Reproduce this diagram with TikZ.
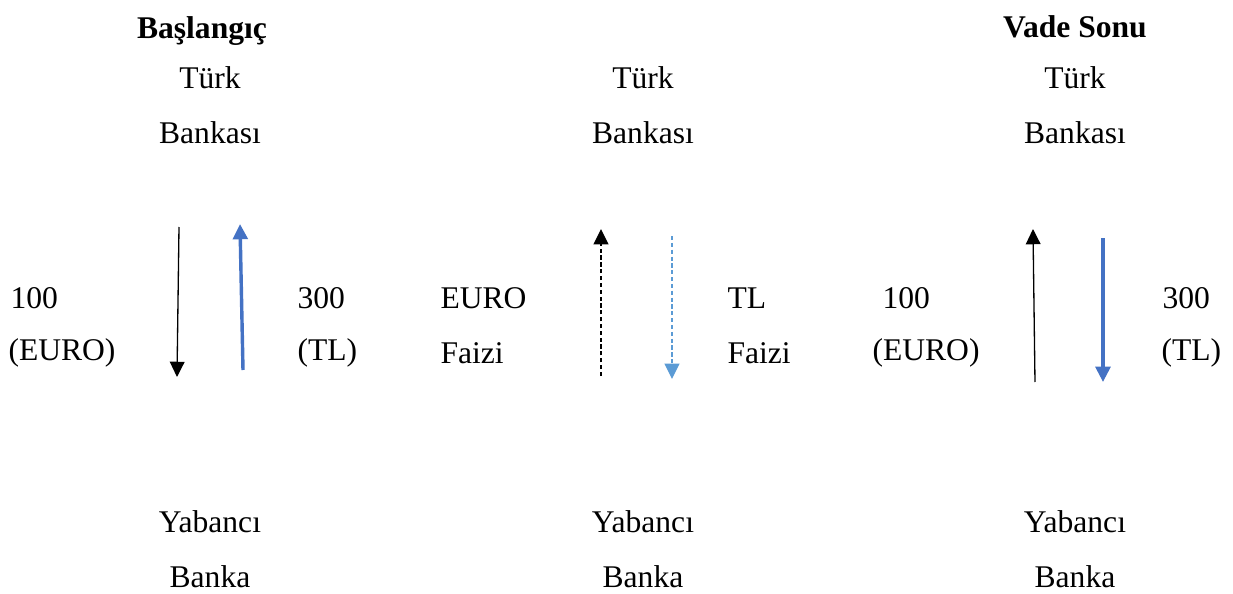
\documentclass[tikz,border=0pt]{standalone}
\usepackage{fontspec}
\setmainfont{Liberation Serif}
\usetikzlibrary{arrows.meta, positioning}

\definecolor{swapBlue}{HTML}{4472C4}
\definecolor{swapLightBlue}{HTML}{5B9BD5}

\begin{document}
\begin{tikzpicture}[
  x=0.38pt, y=-0.38pt,
  font=\fontsize{12}{14}\selectfont,
  >={Triangle[width=5.6pt,length=5.8pt]},
  % Define text styles
  bankname/.style={
    inner sep=0pt,
    anchor=center
  },
  titletext/.style={
    inner sep=0pt,
    font=\fontsize{12}{14}\selectfont\bfseries
  },
  amount/.style={
    inner sep=0pt,
    anchor=west
  },
  % Arrows style
  thinflow/.style={
    ->,
    line width=0.5pt,
    black
  },
  thickflow/.style={
    ->,
    line width=1.3pt,
    swapBlue
  },
  dashflow/.style={
    ->,
    line width=0.55pt,
    dash pattern=on 1.6pt off 1pt
  }
]
\useasboundingbox (0,0) rectangle (1233,594);

% -----------------------------------------------
% TITLES
% -----------------------------------------------
\node[titletext] (startTitle) at (202,31) {Başlangıç};
\node[titletext] (endTitle) at (1075,27) {Vade Sonu};

% -----------------------------------------------
% TURKISH BANK (TOP)
% -----------------------------------------------
\node[bankname] (turkA) at (210,78) {Türk};
\node[bankname] (turkB) at (643,78) {Türk};
\node[bankname] (turkC) at (1075,78) {Türk};
\node[bankname] (bankasiA) at (210,133) {Bankası};
\node[bankname] (bankasiB) at (643,133) {Bankası};
\node[bankname] (bankasiC) at (1075,133) {Bankası};

% -----------------------------------------------
% FOREIGN BANK (BOTTOM)
% -----------------------------------------------
\node[bankname] (yabanciA) at (210,522) {Yabancı};
\node[bankname] (yabanciB) at (643,522) {Yabancı};
\node[bankname] (yabanciC) at (1075,522) {Yabancı};
\node[bankname] (bankaA) at (210,577) {Banka};
\node[bankname] (bankaB) at (643,577) {Banka};
\node[bankname] (bankaC) at (1075,577) {Banka};

% -----------------------------------------------
% AMOUNTS
% -----------------------------------------------
\node[amount] (euroAmtA) at (10,298) {100};
\node[amount] (euroCurA) at (8,353) {(EURO)};
\node[amount] (tlAmtA) at (297,298) {300};
\node[amount] (tlCurA) at (297,353) {(TL)};

\node[amount] (euroInt) at (440,298) {EURO};
\node[amount] (euroFaiz) at (440,353) {Faizi};
\node[amount] (tlInt) at (727,298) {TL};
\node[amount] (tlFaiz) at (727,353) {Faizi};

\node[amount] (euroAmtC) at (882,298) {100};
\node[amount] (euroCurC) at (872,353) {(EURO)};
\node[amount] (tlAmtC) at (1162,298) {300};
\node[amount] (tlCurC) at (1161,353) {(TL)};

% -----------------------------------------------
% ARROW END POINTS
% -----------------------------------------------
\coordinate (startEuroTop) at (179,227);
\coordinate (startEuroBot) at (177,377);
\coordinate (startTlBot) at (243,370);
\coordinate (startTlTop) at (240,224);

\coordinate (intEuroBot) at (601,376);
\coordinate (intEuroTop) at (601,229);
\coordinate (intTlTop) at (672,236);
\coordinate (intTlBot) at (672,379);

\coordinate (endEuroBot) at (1035,382);
\coordinate (endEuroTop) at (1033,229);
\coordinate (endTlTop) at (1103,238);
\coordinate (endTlBot) at (1103,382);

% -----------------------------------------------
% ARROWS
% -----------------------------------------------

% Start: euro goes down, TL goes up
\draw[thinflow] (startEuroTop) -- (startEuroBot);
\draw[thickflow] (startTlBot) -- (startTlTop);

% Interest payments
\draw[dashflow, black] (intEuroBot) -- (intEuroTop);
\draw[dashflow, swapLightBlue] (intTlTop) -- (intTlBot);

% Maturity: euro goes up, TL goes down
\draw[thinflow] (endEuroBot) -- (endEuroTop);
\draw[thickflow] (endTlTop) -- (endTlBot);

\end{tikzpicture}
\end{document}
